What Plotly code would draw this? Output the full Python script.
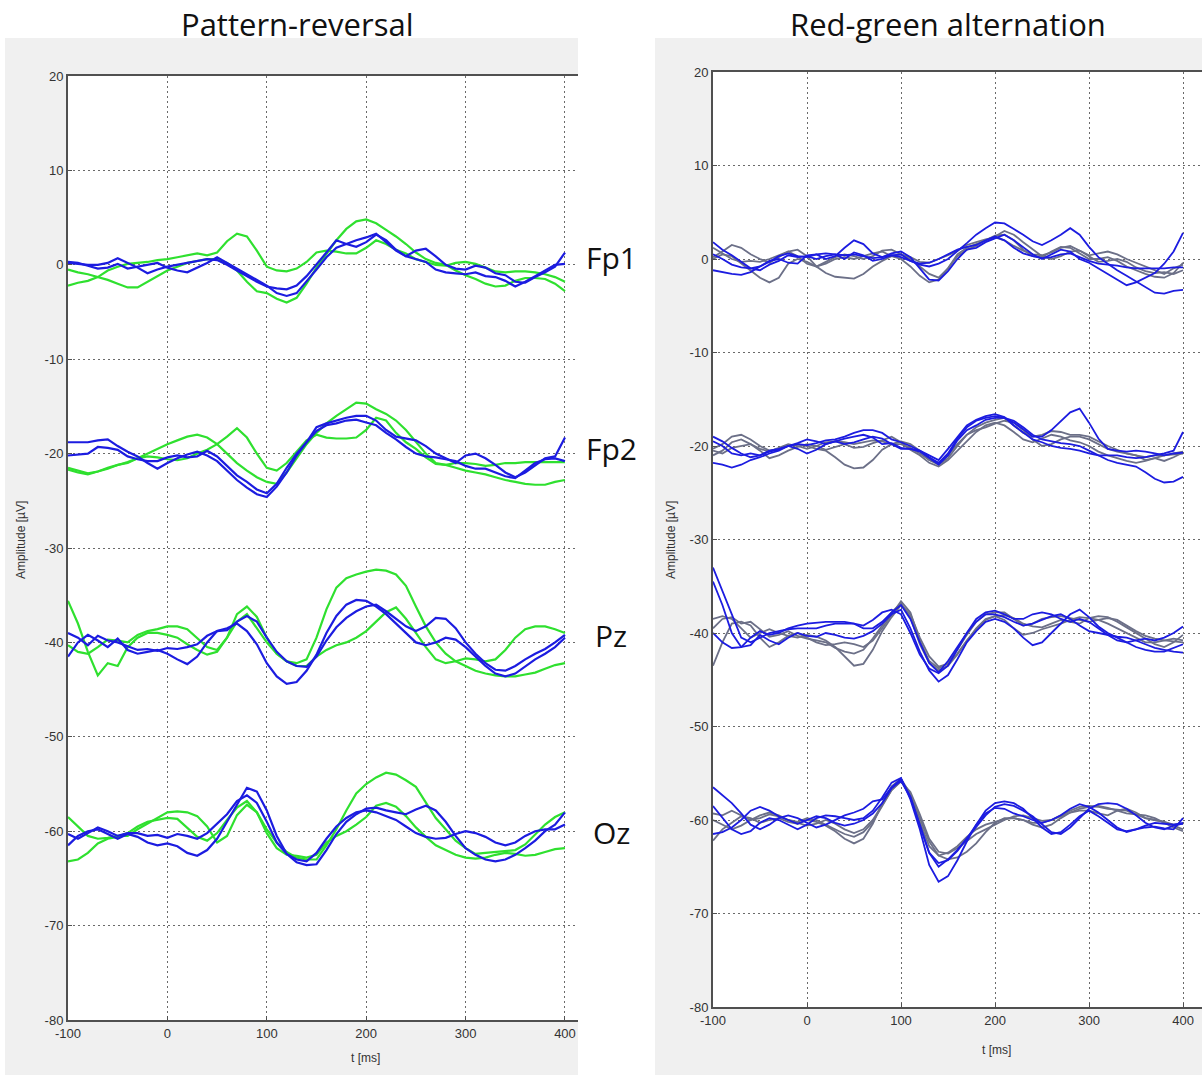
import plotly.graph_objects as go

# ---------------- data ----------------
t_ms = list(range(-100, 401, 10))

x_ticks = [-100, 0, 100, 200, 300, 400]
x_tick_labels = ["-100", "0", "100", "200", "300", "400"]
y_ticks = [20, 10, 0, -10, -20, -30, -40, -50, -60, -70, -80]
y_tick_labels = ["20", "10", "0", "-10", "-20", "-30", "-40", "-50", "-60", "-70", "-80"]

channel_names = ["Fp1", "Fp2", "Pz", "Oz"]
channel_offsets = [0, -20, -40, -60]
panel_titles = ["Pattern-reversal", "Red-green alternation"]

# Pattern-reversal panel
pr_fp1_green = [
    [-2.2, -1.9, -1.7, -1.3, -0.6, -0.2, 0.1, 0.2, 0.3, 0.5, 0.6, 0.8, 1.0, 1.2, 1.0, 1.3, 2.5, 3.3, 3.0, 1.5, -0.2,
     -0.6, -0.7, -0.4, 0.3, 1.3, 1.5, 1.4, 1.2, 1.2, 1.8, 2.6, 2.2, 1.6, 1.2, 0.6, 0.3, 0.0, -0.1, 0.2, 0.3,
     0.1, -0.3, -0.7, -0.8, -0.7, -0.7, -0.8, -1.0, -1.3, -1.8],
    [-0.5, -0.8, -1.0, -1.3, -1.6, -2.0, -2.4, -2.4, -1.8, -1.2, -0.6, -0.2, 0.2, 0.4, 0.6, 0.6, 0.2, -0.6, -1.8, -2.8, -3.0,
     -3.6, -4.0, -3.5, -2.0, -0.3, 1.2, 2.6, 3.8, 4.6, 4.8, 4.4, 3.7, 3.0, 2.2, 1.3, 0.6, 0.2, 0.0, -0.6, -1.1,
     -1.5, -2.0, -2.3, -2.2, -1.7, -1.4, -1.4, -1.5, -2.0, -2.8],
]
pr_fp1_blue = [
    [0.2, 0.1, 0.0, 0.0, 0.2, 0.7, 0.2, -0.3, -0.9, -0.5, -0.2, 0.0, 0.2, 0.4, 0.6, 0.5, 0.0, -0.6, -1.2, -1.8, -2.3,
     -2.5, -2.6, -2.2, -1.2, 0.0, 1.3, 2.6, 2.2, 1.9, 2.4, 3.2, 2.6, 1.6, 0.9, 1.5, 1.7, 0.9, 0.0, -0.4, -0.5,
     -0.1, -0.3, -0.9, -1.1, -1.8, -1.9, -1.3, -0.8, -0.2, 1.3],
    [0.3, 0.2, -0.1, -0.4, -0.3, 0.1, -0.4, -0.2, 0.0, 0.2, -0.3, -0.6, -0.8, -0.3, 0.2, 0.8, 0.2, -0.4, -1.0, -1.6, -2.2,
     -3.0, -3.3, -3.0, -1.8, -0.5, 0.8, 1.8, 2.2, 2.6, 2.9, 3.3, 2.4, 1.5, 0.9, 0.6, 0.3, -0.5, -0.8, -0.9, -1.0,
     -0.8, -1.2, -1.3, -1.7, -2.3, -1.8, -1.2, -0.6, 0.0, 0.1],
]
pr_fp2_green = [
    [-21.5, -21.8, -22.1, -21.9, -21.6, -21.2, -20.9, -20.5, -20.3, -20.4, -20.6, -20.7, -20.5, -20.0, -19.6, -19.0, -18.2, -17.3, -18.3, -20.0, -21.5,
     -21.8, -21.0, -19.8, -18.6, -18.0, -18.3, -18.4, -18.4, -18.3, -17.5, -16.2, -16.5, -17.8, -18.8, -19.5, -20.4, -21.1, -21.2, -21.0, -21.0,
     -21.1, -21.3, -21.2, -21.0, -21.0, -20.9, -20.9, -20.9, -20.9, -20.9],
    [-21.7, -22.0, -22.2, -21.9, -21.5, -21.2, -21.0, -20.5, -20.0, -19.5, -19.0, -18.6, -18.2, -18.0, -18.3, -19.0, -20.0, -21.0, -21.8, -22.5, -23.0,
     -23.2, -22.0, -20.5, -19.0, -17.8, -16.8, -16.0, -15.3, -14.6, -14.7, -15.3, -15.8, -16.5, -17.5, -18.8, -20.0, -21.0, -21.2, -21.5, -21.8,
     -22.0, -22.2, -22.5, -22.8, -23.0, -23.2, -23.3, -23.3, -23.0, -22.8],
]
pr_fp2_blue = [
    [-18.8, -18.8, -18.8, -18.6, -18.5, -19.2, -19.8, -20.3, -21.0, -21.6, -21.0, -20.5, -20.1, -19.8, -20.2, -20.8, -21.8, -22.8, -23.6, -24.3, -24.6,
     -23.5, -22.0, -20.2, -18.8, -17.2, -16.8, -16.5, -16.2, -16.0, -16.0, -16.5, -17.5, -18.2, -18.4, -18.6, -19.2, -20.0, -20.5, -21.0, -20.2,
     -20.0, -20.5, -21.2, -22.0, -22.5, -22.0, -21.2, -20.5, -20.3, -18.3],
    [-20.2, -20.1, -20.0, -19.3, -19.4, -19.6, -20.3, -20.6, -20.8, -20.8, -20.4, -20.2, -20.4, -20.3, -19.7, -20.3, -21.3, -22.3, -23.0, -23.8, -24.2,
     -23.2, -21.5, -20.0, -18.8, -17.6, -17.0, -16.8, -16.5, -16.4, -16.7, -17.0, -17.8, -18.5, -19.3, -20.0, -20.3, -20.4, -20.6, -20.8, -21.3,
     -21.6, -21.6, -22.0, -22.4, -22.6, -21.8, -21.0, -20.6, -20.5, -20.8],
]
pr_pz_green = [
    [-35.6, -38.0, -41.0, -43.5, -42.2, -42.5, -40.5, -39.5, -39.0, -39.0, -39.2, -39.5, -40.2, -40.8, -41.3, -41.0, -39.5, -37.8, -37.0, -38.5, -40.0,
     -41.2, -42.0, -42.5, -42.5, -41.5, -40.8, -40.3, -40.0, -39.5, -38.8, -37.8, -36.8, -36.3, -37.5, -39.0, -40.5, -41.8, -42.2, -42.0, -41.7,
     -41.8, -42.0, -41.8, -40.8, -39.5, -38.6, -38.3, -38.3, -38.6, -39.0],
    [-40.3, -41.0, -41.2, -40.5, -39.7, -39.8, -40.0, -39.2, -38.8, -38.6, -38.3, -38.3, -38.6, -39.5, -40.5, -40.8, -39.5, -37.0, -36.2, -37.3, -39.5,
     -41.2, -42.0, -42.2, -41.8, -39.5, -36.5, -34.2, -33.2, -32.8, -32.5, -32.3, -32.4, -32.8, -34.0, -36.2, -38.3, -40.0, -41.2, -42.0, -42.5,
     -43.0, -43.3, -43.5, -43.6, -43.6, -43.4, -43.2, -42.8, -42.4, -42.2],
]
pr_pz_blue = [
    [-41.5, -40.0, -39.2, -39.8, -40.5, -39.6, -40.8, -41.2, -41.0, -40.8, -41.2, -41.8, -42.3, -41.5, -40.0, -38.8, -38.5, -38.0, -38.8, -40.2, -42.2,
     -43.6, -44.4, -44.2, -43.0, -41.3, -39.0, -37.2, -36.0, -35.5, -35.6, -36.2, -37.0, -38.0, -39.0, -40.0, -40.3, -40.0, -39.5, -39.7, -40.5,
     -41.5, -42.5, -43.3, -43.6, -43.3, -42.5, -41.8, -41.2, -40.5, -39.5],
    [-39.0, -39.5, -40.3, -39.3, -39.8, -40.0, -40.4, -40.8, -40.7, -40.9, -40.6, -40.7, -40.5, -40.2, -39.3, -38.8, -38.7, -37.8, -37.2, -37.8, -39.5,
     -41.0, -42.0, -42.5, -42.6, -41.5, -39.8, -38.4, -37.4, -36.7, -36.2, -36.0, -36.7, -37.5, -38.3, -38.8, -38.3, -37.4, -37.5, -38.5, -40.0,
     -41.2, -42.2, -42.9, -43.0, -42.5, -41.8, -41.2, -40.7, -40.0, -39.2],
]
pr_oz_green = [
    [-58.5, -59.5, -60.5, -60.8, -60.7, -60.5, -60.5, -59.8, -59.2, -58.6, -58.0, -57.9, -58.0, -58.4, -59.5, -61.2, -60.5, -58.3, -57.2, -58.0, -59.8,
     -61.2, -62.2, -62.8, -63.0, -63.0, -61.5, -59.8, -57.8, -56.0, -55.0, -54.3, -53.8, -54.0, -54.6, -55.3, -57.0, -58.6, -59.8, -61.0, -61.8,
     -62.4, -62.3, -62.2, -62.1, -62.0, -61.4, -60.4, -59.3, -58.5, -58.0],
    [-63.2, -63.0, -62.3, -61.3, -60.8, -60.6, -60.2, -59.5, -59.0, -58.8, -58.6, -58.7, -59.6, -60.6, -61.0, -60.2, -58.8, -57.5, -56.8, -58.0, -60.2,
     -61.8, -62.5, -62.6, -62.8, -62.5, -61.2, -60.5, -60.0, -59.3, -58.5, -57.3, -57.0, -57.4, -58.4, -59.6, -60.6, -61.5, -62.0, -62.5, -62.8,
     -62.9, -62.8, -62.5, -62.3, -62.4, -62.6, -62.5, -62.2, -61.9, -61.8],
]
pr_oz_blue = [
    [-61.5, -60.5, -60.0, -59.8, -60.3, -60.8, -60.3, -60.6, -61.2, -61.5, -61.3, -61.6, -62.3, -62.6, -62.0, -60.8, -59.0, -57.2, -55.4, -55.8, -57.8,
     -60.5, -62.4, -63.3, -63.6, -63.5, -62.0, -60.3, -59.0, -58.2, -57.6, -57.5, -57.8, -58.0, -58.2, -57.7, -57.3, -57.8, -59.0, -60.5, -61.8,
     -62.5, -63.0, -63.2, -63.0, -62.5, -61.8, -61.0, -60.0, -59.3, -58.0],
    [-60.3, -60.8, -60.2, -59.6, -60.0, -60.5, -60.2, -60.2, -60.5, -60.4, -60.7, -60.3, -60.5, -60.8, -60.2, -59.2, -58.2, -56.8, -56.2, -57.0, -59.0,
     -61.2, -62.4, -63.0, -63.2, -62.3, -60.8, -59.5, -58.6, -58.0, -57.8, -58.0, -58.4, -58.8, -59.5, -60.2, -60.6, -60.8, -60.7, -60.3, -60.0,
     -60.2, -60.6, -61.2, -61.5, -61.2, -60.5, -60.0, -59.8, -59.8, -59.3],
]

# Red-green alternation panel
rg_fp1_blue = [
    [1.8, 1.0, 0.4, -0.3, -1.0, -1.2, -0.6, -0.2, 0.4, 0.2, 0.3, 0.0, 0.3, 0.5, 0.0, 0.7, 0.4, -0.2, 0.0, 0.4, 0.5,
     -0.2, -0.6, -0.8, -0.5, 0.0, 0.8, 1.7, 2.6, 3.3, 3.9, 3.8, 3.2, 2.6, 1.9, 1.5, 2.0, 2.6, 3.3, 2.6, 1.3,
     0.2, -0.5, -1.2, -1.8, -2.4, -3.0, -3.6, -3.7, -3.4, -3.3],
    [0.5, 0.0, -0.6, -0.9, -1.0, -0.8, -0.2, 0.0, -0.4, -0.5, 0.4, 0.5, 0.0, 0.3, 1.2, 2.0, 1.6, 0.6, 0.2, 0.6, 0.8,
     0.2, -1.0, -2.2, -2.3, -1.3, 0.0, 1.0, 1.2, 1.8, 2.2, 2.6, 2.0, 1.2, 0.5, 0.0, 0.5, 1.0, 0.8, 0.0, -0.4,
     -1.0, -1.6, -2.2, -2.8, -2.5, -2.0, -1.5, -0.5, 0.8, 2.8],
    [-1.2, -1.4, -1.6, -1.7, -1.4, -0.8, -0.3, 0.3, 0.6, 0.3, 0.2, 0.5, 0.6, 0.5, 0.4, 0.5, 0.3, 0.1, 0.2, 0.4, 0.2,
     -0.2, -0.5, -0.4, 0.0, 0.5, 1.0, 1.3, 1.5, 2.0, 2.4, 2.0, 1.2, 0.6, 0.3, 0.1, 0.2, 0.5, 0.6, 0.2, -0.2,
     -0.5, -0.6, -0.7, -0.9, -1.0, -1.0, -1.0, -1.0, -0.9, -0.9],
]
rg_fp1_gray = [
    [0.2, 0.8, 1.5, 1.2, 0.5, 0.0, -0.4, 0.2, 0.8, 1.0, 0.3, -0.8, -1.5, -1.9, -2.0, -2.1, -1.6, -0.8, -0.2, 0.3, 0.5,
     0.0, -0.8, -1.6, -2.0, -1.0, 0.3, 1.0, 1.4, 2.0, 2.5, 2.6, 2.0, 1.0, 0.3, 0.2, 0.8, 1.3, 1.2, 0.6, 0.0,
     0.0, 0.2, -0.2, -0.8, -1.2, -1.6, -1.9, -2.0, -1.5, -0.4],
    [0.0, 0.5, 0.3, -0.5, -1.2, -2.0, -2.5, -2.0, -0.5, 0.0, -0.3, -0.8, -0.5, 0.0, 0.2, 0.0, 0.3, 0.6, 0.8, 0.3, 0.0,
     -0.8, -1.8, -2.5, -2.2, -1.0, 0.5, 1.2, 1.6, 2.0, 2.4, 3.0, 2.6, 1.8, 1.0, 0.3, 0.0, 0.3, 0.8, 0.9, 0.3,
     -0.3, -0.2, 0.0, -0.3, -0.9, -1.3, -1.5, -1.4, -1.6, -1.2],
    [1.2, 0.6, 0.0, -0.3, -0.2, -0.3, 0.0, 0.4, 0.8, 0.3, -0.5, -0.8, -0.3, 0.2, 0.5, 0.3, 0.0, 0.3, 0.9, 1.0, 0.5,
     0.2, -0.3, -0.4, 0.0, 0.4, 0.9, 1.5, 1.8, 2.1, 2.3, 2.0, 1.4, 0.9, 0.5, 0.4, 0.7, 1.2, 1.4, 0.9, 0.4,
     0.6, 0.8, 0.5, 0.0, -0.4, -0.8, -1.2, -1.6, -1.0, -0.6],
]
rg_fp2_blue = [
    [-19.0, -19.5, -20.2, -20.8, -21.2, -21.0, -20.6, -20.4, -20.0, -19.8, -19.9, -19.7, -19.4, -19.3, -19.0, -18.6, -18.3, -18.3, -18.6, -19.3, -19.6,
     -20.0, -20.5, -21.2, -21.8, -20.8, -19.2, -18.0, -17.3, -17.0, -16.8, -17.0, -17.5, -18.2, -19.0, -19.0, -18.3, -17.3, -16.4, -16.0, -17.5,
     -19.2, -20.3, -20.5, -20.6, -20.5, -20.6, -20.8, -21.0, -20.8, -20.7],
    [-21.8, -22.0, -22.3, -22.0, -21.5, -21.2, -20.8, -20.5, -20.0, -20.3, -20.8, -20.4, -19.8, -19.5, -19.8, -19.6, -19.3, -19.0, -19.2, -19.8, -20.3,
     -20.3, -20.6, -21.3, -22.0, -21.0, -19.4, -18.3, -17.8, -17.2, -17.0, -17.0, -17.3, -18.0, -18.8, -19.3, -19.5, -19.7, -19.8, -20.0, -20.5,
     -21.0, -21.5, -21.8, -22.0, -22.2, -22.8, -23.5, -23.9, -23.8, -23.3],
    [-19.5, -20.0, -20.8, -21.0, -20.8, -21.0, -20.5, -20.3, -20.0, -19.7, -19.3, -19.5, -19.8, -19.5, -19.2, -19.0, -18.8, -19.1, -19.8, -19.7, -20.2,
     -20.3, -20.5, -21.0, -21.5, -20.3, -19.0, -17.8, -17.2, -16.8, -16.6, -16.9, -17.8, -18.6, -19.3, -19.6, -20.0, -20.2, -20.3, -20.5, -20.8,
     -21.0, -21.0, -21.0, -21.2, -21.3, -21.2, -21.0, -20.8, -20.5, -18.5],
]
rg_fp2_gray = [
    [-20.3, -19.8, -19.0, -18.8, -19.3, -20.0, -20.5, -20.3, -20.0, -19.8, -20.0, -20.3, -20.5, -21.2, -22.0, -22.4, -22.3, -21.5, -20.4, -19.8, -19.5,
     -19.8, -20.5, -21.5, -22.0, -21.3, -20.0, -18.8, -18.0, -17.5, -17.2, -17.0, -17.8, -18.6, -19.0, -18.8, -18.4, -18.5, -18.8, -18.8, -19.0,
     -19.5, -20.0, -20.4, -20.8, -21.0, -21.2, -21.0, -21.0, -20.8, -20.6],
    [-20.5, -20.8, -20.2, -20.0, -19.8, -20.3, -20.6, -20.2, -19.8, -20.0, -20.3, -20.0, -19.6, -19.5, -19.6, -19.8, -19.6, -19.4, -19.5, -19.8, -19.8,
     -20.2, -20.8, -21.5, -21.8, -21.0, -19.8, -18.8, -18.3, -18.0, -17.6, -17.3, -17.5, -18.3, -19.3, -20.0, -19.8, -19.3, -19.0, -19.0, -19.3,
     -19.8, -20.3, -20.6, -20.8, -21.0, -21.5, -21.3, -21.0, -20.9, -20.8],
    [-21.0, -20.5, -19.6, -19.3, -19.8, -20.5, -21.3, -21.0, -20.5, -20.1, -19.8, -20.0, -20.4, -20.1, -19.8, -20.2, -20.1, -19.7, -19.4, -19.0, -19.6,
     -20.4, -21.0, -21.8, -22.2, -21.5, -20.5, -19.5, -18.5, -17.8, -17.5, -17.8, -18.5, -19.3, -19.6, -19.2, -18.8, -19.0, -19.4, -19.6, -20.0,
     -20.6, -21.0, -21.3, -21.6, -21.8, -21.6, -21.3, -21.6, -21.2, -20.7],
]
rg_pz_blue = [
    [-33.0, -35.5, -38.0, -40.5, -41.0, -40.5, -40.0, -39.8, -39.6, -39.5, -39.5, -39.5, -39.2, -39.0, -39.0, -39.0, -39.5, -39.5, -38.8, -37.8, -37.0,
     -38.5, -41.0, -43.2, -44.2, -43.0, -41.5, -40.0, -38.8, -38.0, -38.0, -38.3, -38.8, -39.2, -39.0, -38.6, -38.2, -38.0, -38.5, -39.2, -39.8,
     -40.0, -40.2, -40.4, -40.5, -40.8, -41.2, -41.6, -41.8, -42.0, -42.1],
    [-34.5, -37.0, -40.0, -41.5, -41.3, -40.2, -40.8, -41.2, -40.5, -40.0, -40.3, -40.4, -40.0, -40.2, -40.5, -40.6, -40.3, -39.8, -39.0, -38.0, -37.5,
     -39.5, -42.0, -44.0, -45.2, -44.5, -42.8, -41.0, -39.8, -38.8, -38.5, -38.8, -39.5, -40.5, -41.3, -41.0, -40.0, -39.0, -38.0, -37.5, -38.3,
     -39.3, -40.0, -40.5, -41.0, -41.5, -41.8, -42.0, -42.0, -41.6, -41.2],
    [-40.0, -41.0, -41.6, -41.5, -40.5, -39.8, -40.2, -40.0, -39.5, -39.2, -39.0, -38.9, -38.8, -38.8, -38.8, -39.0, -39.2, -38.6, -37.8, -37.5, -38.0,
     -40.0, -42.3, -43.8, -44.3, -43.5, -41.8, -40.0, -38.5, -37.8, -37.6, -38.0, -38.5, -38.5, -38.0, -37.8, -38.0, -38.5, -38.8, -38.5, -38.8,
     -39.5, -40.2, -40.8, -41.0, -40.8, -40.6, -40.8, -40.5, -40.0, -39.3],
]
rg_pz_gray = [
    [-38.5, -38.2, -38.5, -39.5, -40.5, -40.0, -39.6, -40.0, -40.3, -40.5, -40.2, -40.4, -40.8, -41.5, -42.5, -43.5, -43.3, -41.8, -39.8, -38.3, -37.0,
     -38.0, -40.5, -42.5, -43.6, -43.3, -42.2, -40.8, -39.5, -38.5, -38.2, -38.6, -39.5, -40.2, -40.0, -39.6, -39.3, -39.0, -38.6, -38.3, -38.4,
     -38.6, -39.0, -39.5, -40.0, -40.5, -41.0, -41.0, -40.8, -40.6, -40.8],
    [-43.5, -41.0, -39.0, -38.8, -39.2, -40.5, -41.5, -41.0, -40.3, -40.0, -40.5, -41.0, -41.3, -41.2, -41.0, -41.2, -41.5, -40.8, -39.5, -38.0, -36.6,
     -37.8, -40.8, -43.0, -43.8, -43.2, -41.8, -40.2, -38.8, -38.0, -37.8, -37.8, -38.5, -39.2, -39.0, -38.5, -38.3, -38.2, -38.4, -38.6, -38.8,
     -38.6, -38.4, -38.6, -39.2, -39.8, -40.3, -40.6, -40.8, -40.9, -41.0],
    [-39.5, -38.5, -38.3, -39.0, -38.8, -39.6, -40.4, -40.2, -39.8, -40.3, -40.6, -40.8, -41.0, -41.6, -42.0, -42.2, -41.8, -40.6, -39.2, -37.8, -36.8,
     -38.3, -41.2, -43.2, -44.0, -43.5, -42.3, -40.8, -39.6, -38.6, -38.2, -38.1, -38.4, -39.0, -39.3, -39.4, -39.0, -38.6, -38.8, -39.0, -38.4,
     -38.2, -38.3, -38.8, -39.4, -40.0, -40.6, -41.2, -41.5, -41.0, -40.2],
]
rg_oz_blue = [
    [-56.5, -57.3, -58.2, -59.3, -60.5, -61.0, -60.5, -59.8, -59.5, -59.8, -60.3, -60.8, -60.5, -60.0, -59.5, -59.2, -58.8, -58.0, -57.8, -56.5, -55.6,
     -57.5, -60.5, -63.5, -65.0, -64.2, -63.2, -62.0, -60.8, -59.5, -58.6, -58.3, -58.5, -59.0, -59.6, -60.4, -61.3, -61.5, -60.8, -59.8, -58.8,
     -58.3, -58.2, -58.3, -58.8, -59.5, -60.3, -60.8, -61.0, -60.6, -60.4],
    [-58.5, -59.8, -61.0, -61.5, -61.2, -60.3, -59.8, -60.0, -60.5, -61.0, -60.5, -59.8, -59.5, -59.6, -59.8, -60.0, -59.8, -59.0, -57.6, -56.0, -55.5,
     -57.8, -61.0, -64.8, -66.6, -66.0, -64.3, -62.3, -60.5, -59.0, -58.2, -58.0, -58.2, -58.8, -59.8, -60.8, -61.5, -61.3, -60.5, -59.6, -59.0,
     -59.6, -60.3, -61.0, -61.2, -61.0, -60.8, -60.7, -60.9, -61.0, -59.8],
    [-61.5, -61.3, -60.8, -60.0, -59.0, -58.6, -59.0, -59.6, -60.0, -60.4, -60.0, -59.6, -59.8, -60.3, -60.6, -60.4, -60.0, -59.3, -58.2, -56.6, -55.8,
     -57.6, -60.6, -63.5, -64.6, -64.3, -63.3, -62.0, -60.5, -59.3, -58.7, -58.8, -59.3, -59.6, -60.0, -60.3, -60.0, -59.5, -58.8, -58.3, -58.6,
     -59.2, -60.0, -60.8, -61.3, -61.0, -60.6, -60.3, -60.4, -60.5, -60.3],
]
rg_oz_gray = [
    [-62.2, -61.0, -60.3, -59.6, -59.8, -60.3, -60.0, -59.8, -60.2, -60.4, -60.0, -60.2, -60.6, -61.2, -62.0, -62.5, -62.0, -60.4, -58.2, -56.4, -55.6,
     -57.2, -59.8, -62.3, -63.8, -64.2, -64.0, -63.4, -62.5, -61.3, -60.3, -59.8, -59.8, -60.0, -60.5, -60.8, -60.5, -59.8, -59.2, -58.8, -58.6,
     -58.5, -58.7, -59.0, -59.3, -59.4, -59.5, -59.8, -60.3, -60.8, -61.2],
    [-59.3, -59.5, -59.0, -59.5, -60.0, -59.8, -59.4, -59.6, -60.0, -60.2, -59.8, -60.0, -60.5, -61.0, -61.5, -61.8, -61.3, -60.2, -58.5, -56.8, -55.8,
     -57.4, -60.2, -62.8, -63.8, -63.5, -62.8, -61.8, -61.0, -60.5, -60.2, -59.9, -59.8, -60.0, -60.3, -60.3, -60.0, -59.5, -59.0, -58.6, -58.5,
     -58.6, -58.8, -58.9, -59.0, -59.4, -59.8, -60.0, -60.2, -60.5, -60.4],
    [-60.0, -60.5, -61.0, -60.6, -60.0, -59.5, -59.2, -59.5, -60.0, -60.3, -60.6, -60.4, -60.0, -60.4, -61.0, -61.4, -61.0, -60.0, -58.4, -56.8, -55.9,
     -57.0, -59.4, -62.0, -63.4, -63.6, -63.0, -62.2, -61.5, -61.0, -60.5, -60.0, -59.6, -59.5, -59.8, -60.1, -60.0, -59.6, -59.2, -59.0, -59.0,
     -59.3, -59.5, -59.0, -58.8, -59.2, -59.8, -60.0, -60.2, -60.6, -61.0],
]

# ---------------- styles ----------------
W, H = 1202, 1077
GREEN = "#2fe02f"
BLUE = "#1c1ce0"
GRAY = "#6c7088"
PANEL_BG = "#f0f0f0"
AXIS_COL = "#505050"
TICK_FONT = dict(family="Liberation Sans Narrow, Arial Narrow, Liberation Sans, sans-serif", size=13, color="#333333")
CH_LABEL_SHIFT = [7, 5, 7, -1]


def px_x(p):
    return p / W


def px_y(p):
    return 1 - p / H


fig = go.Figure()

left_groups = [
    (pr_fp1_green, GREEN), (pr_fp2_green, GREEN), (pr_pz_green, GREEN), (pr_oz_green, GREEN),
    (pr_fp1_blue, BLUE), (pr_fp2_blue, BLUE), (pr_pz_blue, BLUE), (pr_oz_blue, BLUE),
]
for group, col in left_groups:
    for series in group:
        fig.add_trace(go.Scatter(x=t_ms, y=series, mode="lines", line=dict(color=col, width=2.2),
                                 xaxis="x", yaxis="y", showlegend=False, hoverinfo="skip"))

right_groups = [
    (rg_fp1_gray, GRAY), (rg_fp2_gray, GRAY), (rg_pz_gray, GRAY), (rg_oz_gray, GRAY),
    (rg_fp1_blue, BLUE), (rg_fp2_blue, BLUE), (rg_pz_blue, BLUE), (rg_oz_blue, BLUE),
]
for group, col in right_groups:
    for series in group:
        fig.add_trace(go.Scatter(x=t_ms, y=series, mode="lines", line=dict(color=col, width=1.8),
                                 xaxis="x2", yaxis="y2", showlegend=False, hoverinfo="skip"))

axis_common = dict(
    tickmode="array", showgrid=True, gridcolor="#6a6a6a", griddash="2px,3px", gridwidth=1.3,
    zeroline=False, showline=True, linecolor=AXIS_COL, linewidth=2, automargin=False,
    ticks="inside", ticklen=4, tickcolor=AXIS_COL, tickfont=TICK_FONT,
)

fig.update_layout(
    template="none",
    width=W, height=H, autosize=False,
    margin=dict(l=0, r=0, t=0, b=0, pad=0, autoexpand=False),
    paper_bgcolor="white", plot_bgcolor="rgba(0,0,0,0)",
    xaxis=dict(domain=[px_x(68), px_x(578)], range=[-100, 413.1], anchor="y", mirror=True,
               tickvals=x_ticks, ticktext=x_tick_labels, **axis_common),
    yaxis=dict(domain=[px_y(1020), px_y(76)], range=[-80, 20], anchor="x",
               tickvals=y_ticks, ticktext=y_tick_labels, **axis_common),
    xaxis2=dict(domain=[px_x(713), 1.0], range=[-100, 420.2], anchor="y2", mirror=True,
                tickvals=x_ticks, ticktext=x_tick_labels, **axis_common),
    yaxis2=dict(domain=[px_y(1007), px_y(72)], range=[-80, 20], anchor="x2",
                tickvals=y_ticks, ticktext=y_tick_labels, **axis_common),
)

# panel backgrounds (gray figure area + white axes area)
shapes = [
    dict(type="rect", xref="paper", yref="paper", x0=px_x(5), x1=px_x(578), y0=px_y(1075), y1=px_y(38),
         fillcolor=PANEL_BG, line=dict(width=0), layer="below"),
    dict(type="rect", xref="paper", yref="paper", x0=px_x(655), x1=1.0, y0=px_y(1075), y1=px_y(38),
         fillcolor=PANEL_BG, line=dict(width=0), layer="below"),
    dict(type="rect", xref="paper", yref="paper", x0=px_x(68), x1=px_x(578), y0=px_y(1020), y1=px_y(76),
         fillcolor="white", line=dict(width=0), layer="below"),
    dict(type="rect", xref="paper", yref="paper", x0=px_x(713), x1=1.0, y0=px_y(1007), y1=px_y(72),
         fillcolor="white", line=dict(width=0), layer="below"),
]
fig.update_layout(shapes=shapes)

TITLE_FONT = dict(family="Open Sans, Noto Sans, sans-serif", size=31, color="#111111")
LABEL_FONT = dict(family="Liberation Sans Narrow, Arial Narrow, Liberation Sans, sans-serif", size=12, color="#333333")

annotations = [
    dict(text=panel_titles[0], x=px_x(297), y=px_y(24), xref="paper", yref="paper", showarrow=False,
         font=TITLE_FONT, xanchor="center", yanchor="middle"),
    dict(text=panel_titles[1], x=px_x(948), y=px_y(24), xref="paper", yref="paper", showarrow=False,
         font=TITLE_FONT, xanchor="center", yanchor="middle"),
    dict(text="t [ms]", x=px_x(365), y=px_y(1058), xref="paper", yref="paper", showarrow=False,
         font=LABEL_FONT, xanchor="center", yanchor="middle"),
    dict(text="t [ms]", x=px_x(996), y=px_y(1050), xref="paper", yref="paper", showarrow=False,
         font=LABEL_FONT, xanchor="center", yanchor="middle"),
    dict(text="Amplitude [µV]", x=px_x(21), y=px_y(540), xref="paper", yref="paper", showarrow=False,
         font=LABEL_FONT, textangle=-90, xanchor="center", yanchor="middle"),
    dict(text="Amplitude [µV]", x=px_x(671), y=px_y(540), xref="paper", yref="paper", showarrow=False,
         font=LABEL_FONT, textangle=-90, xanchor="center", yanchor="middle"),
]
CH_FONT = dict(family="Open Sans, Noto Sans, sans-serif", size=30, color="#111111")
for name, off, shift in zip(channel_names, channel_offsets, CH_LABEL_SHIFT):
    annotations.append(dict(text=name, x=px_x(611), y=off, xref="paper", yref="y", yshift=shift,
                            showarrow=False, font=CH_FONT, xanchor="center", yanchor="middle"))
fig.update_layout(annotations=annotations)

fig.write_html("out.html", post_script="document.body.style.margin='0';document.documentElement.style.overflow='hidden';")
